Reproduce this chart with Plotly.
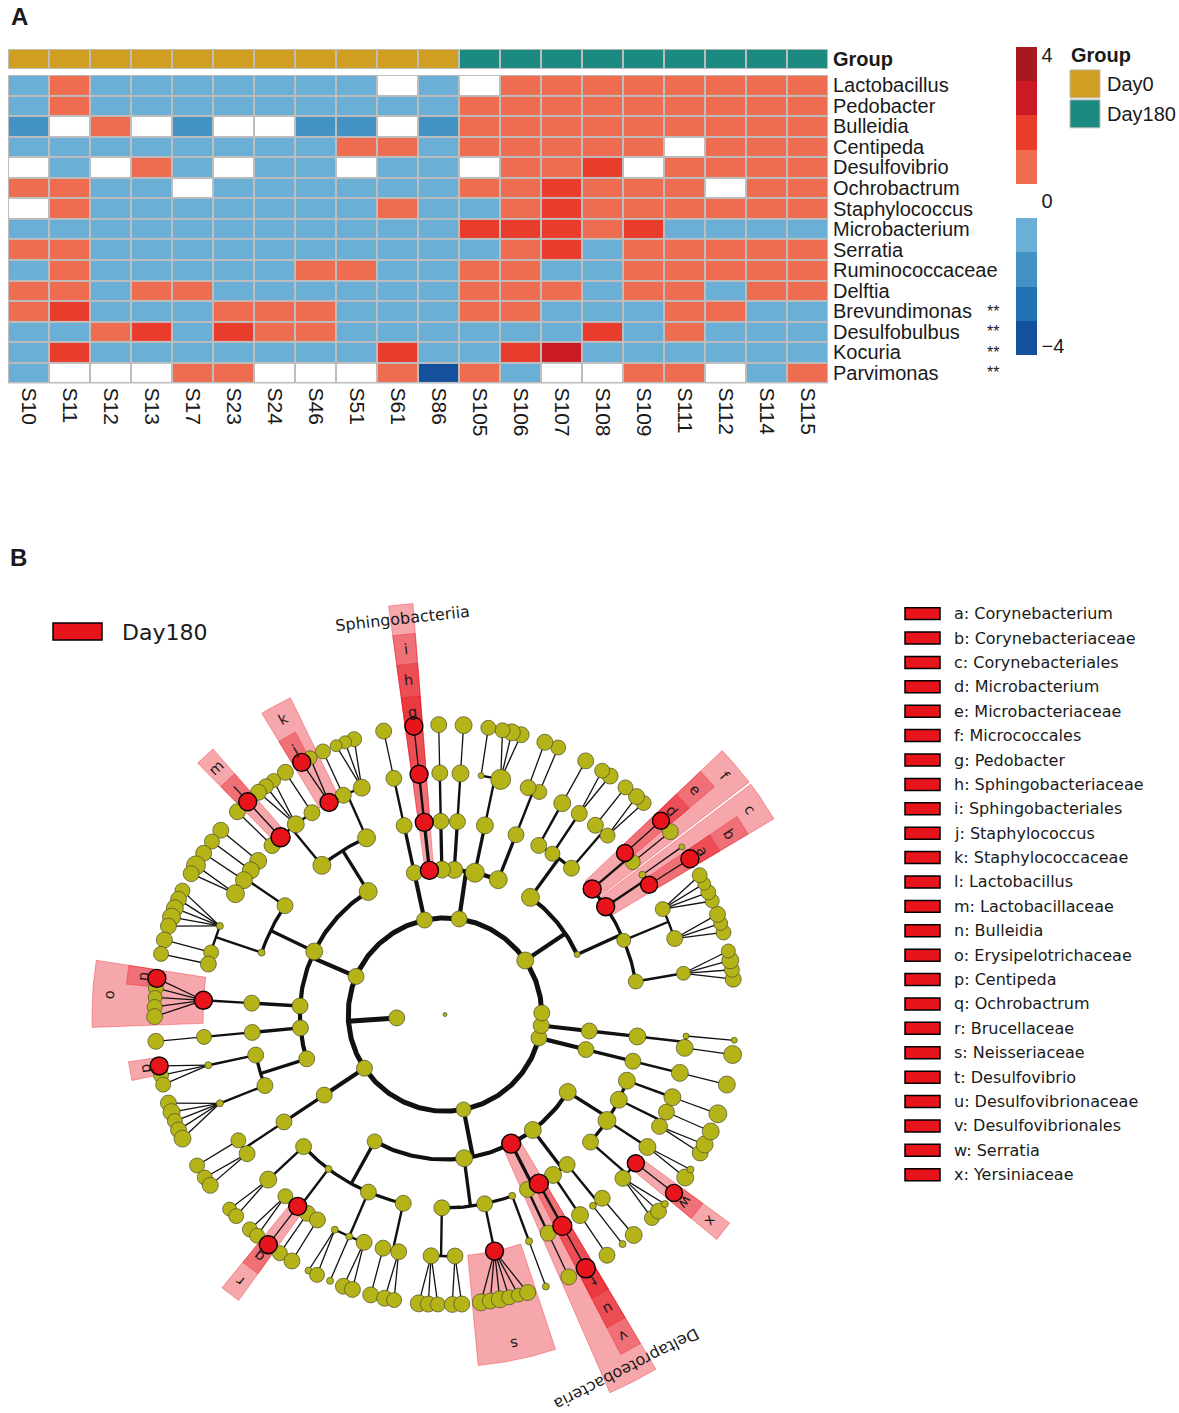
import math
import plotly.graph_objects as go

W, H = 1179, 1413

# ---------------- panel A: heatmap data ----------------
SAMPLES = ["S10", "S11", "S12", "S13", "S17", "S23", "S24", "S46", "S51", "S61", "S86",
           "S105", "S106", "S107", "S108", "S109", "S111", "S112", "S114", "S115"]
SAMPLE_GROUP = ["Day0", "Day0", "Day0", "Day0", "Day0", "Day0", "Day0", "Day0", "Day0", "Day0", "Day0",
                "Day180", "Day180", "Day180", "Day180", "Day180", "Day180", "Day180", "Day180", "Day180"]
GROUP_NAMES = ["Day0", "Day180"]
GROUP_COLORS = ["#D09E20", "#1B8A80"]

TAXA = ["Lactobacillus", "Pedobacter", "Bulleidia", "Centipeda", "Desulfovibrio", "Ochrobactrum",
        "Staphylococcus", "Microbacterium", "Serratia", "Ruminococcaceae", "Delftia",
        "Brevundimonas", "Desulfobulbus", "Kocuria", "Parvimonas"]
SIGNIF = ["", "", "", "", "", "", "", "", "", "", "", "**", "**", "**", "**"]

SCORES = [
    [-1, 1, -1, -1, -1, -1, -1, -1, -1, 0, -1, 0, 1, 1, 1, 1, 1, 1, 1, 1],
    [-1, 1, -1, -1, -1, -1, -1, -1, -1, -1, -1, 1, 1, 1, 1, 1, 1, 1, 1, 1],
    [-2, 0, 1, 0, -2, 0, 0, -2, -2, 0, -2, 1, 1, 1, 1, 1, 1, 1, 1, 1],
    [-1, -1, -1, -1, -1, -1, -1, -1, 1, 1, -1, 1, 1, 1, 1, 1, 0, 1, 1, 1],
    [0, -1, 0, 1, -1, 0, -1, -1, 0, -1, -1, 0, 1, 1, 2, 0, 1, 1, 1, 1],
    [1, 1, -1, -1, 0, -1, -1, -1, -1, -1, -1, 1, 1, 2, 1, 1, 1, 0, 1, 1],
    [0, 1, -1, -1, -1, -1, -1, -1, -1, 1, -1, -1, 1, 2, 1, 1, 1, 1, 1, 1],
    [-1, -1, -1, -1, -1, -1, -1, -1, -1, -1, -1, 2, 2, 2, 1, 2, -1, -1, -1, -1],
    [1, 1, -1, -1, -1, -1, -1, -1, -1, -1, -1, -1, 1, 2, -1, 1, 1, 1, 1, 1],
    [-1, 1, -1, -1, -1, -1, -1, 1, 1, -1, -1, 1, 1, -1, -1, 1, 1, 1, 1, 1],
    [1, 1, -1, 1, 1, -1, -1, -1, -1, -1, -1, 1, 1, 1, -1, 1, 1, -1, 1, 1],
    [1, 2, -1, -1, -1, 1, 1, 1, -1, -1, -1, 1, 1, -1, -1, -1, 1, 1, -1, -1],
    [-1, -1, 1, 2, -1, 2, 1, 1, -1, -1, -1, -1, -1, -1, 2, -1, 1, -1, -1, -1],
    [-1, 2, -1, -1, -1, -1, -1, -1, -1, 2, -1, -1, 2, 3, -1, -1, -1, -1, -1, -1],
    [-1, 0, 0, 0, 1, 1, 0, 0, 0, 1, -4, 1, -1, 0, 0, 1, 1, 0, -1, 1],
]
# colours for the score levels -4 .. 4
LEVEL_COLORS = ["#14509B", "#2171B5", "#4292C6", "#6BAED6", "#FFFFFF",
                "#EE6C50", "#EA3C2D", "#CC1A24", "#A8181F"]

# ---------------- panel B: cladogram data ----------------
# node = leaf size | (size, [children]) | ("Name", size[, [children]])
ACTINOBACTERIA = (17, [
    (6, [
        (15, [(14, [16, 15, 17, 14])]),
        (14, [(16, [15, 14, 16]), (15, [14, 15, 13, 15])]),
        ("Corynebacteriales", 18, [
            ("Corynebacteriaceae", 17, [("Corynebacterium", 18)]),
            (7, [6]),
        ]),
        ("Micrococcales", 18, [
            (15, [16]),
            ("Microbacteriaceae", 17, [("Microbacterium", 17)]),
        ]),
    ]),
    (18, [
        (16, [(15, [15, 16]), (16, [15])]),
        (15, [(16, [16, 15])]),
        (16, [(17, [16])]),
    ]),
])

BACTEROIDETES = (16, [
    (18, [(16, [(15, [15]), (16, [16])])]),
    (19, [(17, [(20, [16, 17, 15]), (6, [15])])]),
    (17, [(16, [(17, [17])])]),
    (17, [(16, [(16, [16])])]),
    ("Sphingobacteriia", 18, [("Sphingobacteriales", 18, [("Sphingobacteriaceae", 18, [("Pedobacter", 18)])])]),
])

MINOR_PHYLUM_A = (16, [(16, [(16, [(16, [16])])])])

FIRMICUTES = (16, [
    (18, [
        (18, [(17, [15, 13, 12]), (16, [15]), ("Staphylococcaceae", 18, [14, ("Staphylococcus", 18)])]),
        (18, [(16, [16]), (17, [14, 15, 16]), ("Lactobacillaceae", 19, [("Lactobacillus", 18)]), (16, [16])]),
    ]),
    (17, [
        (16, [(17, [16]), (17, [15]), (17, [16]), (18, [19, 16])]),
        (7, [(7, [15, 16, 17, 18, 16]), (15, [16]), (16, [15])]),
    ]),
    (16, [(16, [("Erysipelotrichaceae", 18, [("Bulleidia", 18), 15, 14, 15, 16])])]),
    (16, [(16, [(15, [16])])]),
    (16, [
        (16, [(7, [("Centipeda", 18), 15, 15])]),
        (16, [(7, [16, 17, 15, 16, 17])]),
    ]),
])

FUSOBACTERIA = (16, [(16, [(16, [(15, [15]), (16, [15, 16])])])])

PROTEOBACTERIA = (15, [
    (15, [
        (16, [(17, [14, 15])]),
        (7, [(15, [15, 15]), ("Brucellaceae", 18, [("Ochrobactrum", 18)]), (16, [15]), (16, [16])]),
        (16, [(7, [7, 15]), (7, [7]), (16, [16, 16])]),
        (16, [(16, [16]), (16, [16, 15])]),
    ]),
    (17, [
        (16, [(16, [17, 16, 15]), (16, [16, 16])]),
        (16, [("Neisseriaceae", 18, [17, 16, 17, 15, 14, 16])]),
        (7, [(7, [7])]),
    ]),
    ("Deltaproteobacteria", 19, [
        (16, [(16, [16])]),
        ("Desulfovibrionales", 19, [("Desulfovibrionaceae", 19, [("Desulfovibrio", 19)])]),
    ]),
    (17, [(17, [(17, [16])]), (16, [(7, [7]), (16, [17])])]),
    (17, [
        (16, [(16, [15, 16, 7]), ("Yersiniaceae", 17, [("Serratia", 17)])]),
        (18, [(17, [17, 7])]),
        (17, [(16, [16, 17]), (16, [17])]),
        (17, [(17, [18])]),
    ]),
])

MINOR_PHYLUM_B = (16, [(16, [(16, [(17, [17])])])])
MINOR_PHYLUM_C = (16, [(16, [(17, [(17, [18]), (6, [6])])])])
MINOR_PHYLUM_D = 16

PHYLA = [ACTINOBACTERIA, BACTEROIDETES, MINOR_PHYLUM_A, FIRMICUTES, FUSOBACTERIA,
         PROTEOBACTERIA, MINOR_PHYLUM_B, MINOR_PHYLUM_C, MINOR_PHYLUM_D]

BIOMARKER_LETTERS = list("abcdefghijklmnopqrstuvwx")
BIOMARKER_TAXA = ["Corynebacterium", "Corynebacteriaceae", "Corynebacteriales", "Microbacterium",
                  "Microbacteriaceae", "Micrococcales", "Pedobacter", "Sphingobacteriaceae",
                  "Sphingobacteriales", "Staphylococcus", "Staphylococcaceae", "Lactobacillus",
                  "Lactobacillaceae", "Bulleidia", "Erysipelotrichaceae", "Centipeda", "Ochrobactrum",
                  "Brucellaceae", "Neisseriaceae", "Desulfovibrio", "Desulfovibrionaceae",
                  "Desulfovibrionales", "Serratia", "Yersiniaceae"]
BIOMARKER_CLASSES = ["Sphingobacteriia", "Deltaproteobacteria"]

RED = "#E8141C"
NODE_YELLOW = "#B4B418"
TXT = "#1a1a1a"
SANS = "Liberation Sans, Arial, sans-serif"
DEJAVU = "DejaVu Sans, sans-serif"


def px(x):
    return x / W


def py(y):
    return 1 - y / H


def note(x, y, text, size, family=SANS, xanchor="left", **kw):
    return dict(xref="paper", yref="paper", x=px(x), y=py(y), xanchor=xanchor, yanchor="middle",
                text=text, showarrow=False, font=dict(family=family, size=size, color=TXT), **kw)


fig = go.Figure()

# ---------------- heatmap ----------------
scale = []
for i, c in enumerate(LEVEL_COLORS):
    scale += [[i / 9, c], [(i + 1) / 9, c]]

fig.add_trace(go.Heatmap(
    z=SCORES, x=SAMPLES, y=TAXA, zmin=-4.5, zmax=4.5, colorscale=scale,
    xgap=2, ygap=2, xaxis="x", yaxis="y",
    colorbar=dict(x=px(1016), xanchor="left", y=py(200), yanchor="middle",
                  len=308, lenmode="pixels", thickness=21, thicknessmode="pixels",
                  xpad=0, ypad=0, outlinewidth=0, ticks="",
                  tickvals=[-4.25, 0, 4.25], ticktext=["\u22124", "0", "4"],
                  tickfont=dict(family=SANS, size=20, color=TXT)),
))

grp_idx = [GROUP_NAMES.index(g) for g in SAMPLE_GROUP]
fig.add_trace(go.Heatmap(
    z=[grp_idx], x=SAMPLES, y=["Group"], zmin=0, zmax=1,
    colorscale=[[0, GROUP_COLORS[0]], [0.5, GROUP_COLORS[0]], [0.5, GROUP_COLORS[1]], [1, GROUP_COLORS[1]]],
    showscale=False, xgap=2, ygap=2, xaxis="x", yaxis="y2",
))

shapes = [
    dict(type="rect", xref="x domain", yref="y domain", x0=0, x1=1, y0=0, y1=1,
         fillcolor="#BDBDBD", line_width=0, layer="below"),
    dict(type="rect", xref="x domain", yref="y2 domain", x0=0, x1=1, y0=0, y1=1,
         fillcolor="#BDBDBD", line_width=0, layer="below"),
]
annotations = []

for name, s in zip(TAXA, SIGNIF):
    if s:
        annotations.append(dict(xref="paper", yref="y", x=px(993), y=name, xanchor="center",
                                yanchor="middle", text=s, showarrow=False,
                                font=dict(family=SANS, size=16, color=TXT)))

# group legend
annotations.append(note(1069, 54, "<b>Group</b>", 20))
for i, (g, c) in enumerate(zip(GROUP_NAMES, GROUP_COLORS)):
    top = 69 + i * 30
    shapes.append(dict(type="rect", xref="paper", yref="paper", x0=px(1070), x1=px(1100),
                       y0=py(top + 28), y1=py(top), fillcolor=c, line=dict(color="#BDBDBD", width=1)))
    annotations.append(note(1105, top + 14, g, 20))

# panel letters
annotations.append(note(9, 16, "<b>A</b>", 24))
annotations.append(note(8, 557, "<b>B</b>", 24))

# ---------------- cladogram layout ----------------
R_STEP = 48.4
GAP_AFTER = {0: 0.0, 1: 2.2, 2: 1.6, 3: 1.0, 4: 0.5, 5: 0.0}
BAND_OUTER = {3: 413, 4: 383, 5: 353, 6: 320}
LABEL_R = {3: 399, 4: 368, 5: 337, 6: 305}
LINE_W = {1: 5.0, 2: 4.2, 3: 3.3, 4: 2.4, 5: 1.3}
START_DEG = 7.0


def build(item, level):
    if isinstance(item, (int, float)):
        return {"name": "", "size": item, "level": level, "kids": []}
    if isinstance(item[0], str):
        name, size = item[0], item[1]
        kids = item[2] if len(item) > 2 else []
    else:
        name, size, kids = "", item[0], item[1]
    return {"name": name, "size": size, "level": level, "kids": [build(k, level + 1) for k in kids]}


root = {"name": "", "size": 4, "level": 0, "kids": [build(("Bacteria", 16, PHYLA), 1)]}

counter = [0.0]


def place(node):
    if not node["kids"]:
        node["pos"] = counter[0]
        node["lo"] = node["hi"] = counter[0]
        counter[0] += 1
        return
    for i, k in enumerate(node["kids"]):
        if i:
            counter[0] += GAP_AFTER[node["level"]]
        place(k)
    node["lo"] = node["kids"][0]["lo"]
    node["hi"] = node["kids"][-1]["hi"]
    node["pos"] = (node["lo"] + node["hi"]) / 2


place(root)
unit = 360.0 / (counter[0] + GAP_AFTER[1])

nodes = []


def collect(node):
    node["deg"] = START_DEG + node["pos"] * unit
    nodes.append(node)
    for k in node["kids"]:
        collect(k)


collect(root)


def polar(r, deg):
    t = math.radians(deg)
    return r * math.cos(t), r * math.sin(t)


def arc(r, d0, d1):
    n = max(2, int(abs(d1 - d0) / 0.8) + 2)
    return [polar(r, d0 + (d1 - d0) * i / (n - 1)) for i in range(n)]


marker_letter = dict(zip(BIOMARKER_TAXA, BIOMARKER_LETTERS))


def is_marker(n):
    return n["name"] in marker_letter or n["name"] in BIOMARKER_CLASSES


# shaded wedges for biomarker clades
pad = 0.9 * unit
for n in sorted([n for n in nodes if is_marker(n)], key=lambda n: n["level"]):
    lv = n["level"]
    d0 = START_DEG + n["lo"] * unit - pad
    d1 = START_DEG + n["hi"] * unit + pad
    pts = arc(BAND_OUTER[lv], d0, d1) + arc(lv * R_STEP, d1, d0)
    pts.append(pts[0])
    fig.add_trace(go.Scatter(x=[p[0] for p in pts], y=[p[1] for p in pts], mode="lines",
                             fill="toself", fillcolor="rgba(232,24,34,0.38)",
                             line=dict(color="rgba(232,24,34,0.45)", width=0.8),
                             hoverinfo="skip", xaxis="x3", yaxis="y3"))

# branches
segs = {}


def add(w, pts):
    xs, ys = segs.setdefault(w, ([], []))
    for x, y in pts:
        xs.append(x)
        ys.append(y)
    xs.append(None)
    ys.append(None)


for n in nodes:
    lv = n["level"]
    if lv == 0 or not n["kids"]:
        continue
    rp, rc = lv * R_STEP, (lv + 1) * R_STEP
    w = LINE_W[lv]
    if lv <= 4:
        add(w, [polar(rp, n["deg"]), polar(rc, n["deg"])])
        if lv == 1:
            add(w, arc(rc, 0, 360))
        else:
            d0 = min(k["deg"] for k in n["kids"])
            d1 = max(k["deg"] for k in n["kids"])
            if d1 > d0:
                add(w, arc(rc, d0, d1))
    else:
        for k in n["kids"]:
            add(w, [polar(rp, n["deg"]), polar(rc, k["deg"])])

for w, (xs, ys) in sorted(segs.items()):
    fig.add_trace(go.Scatter(x=xs, y=ys, mode="lines", line=dict(color="#111111", width=w),
                             hoverinfo="skip", xaxis="x3", yaxis="y3"))

# nodes
for red in (False, True):
    sel = [n for n in nodes if is_marker(n) == red]
    xy = [polar(n["level"] * R_STEP, n["deg"]) for n in sel]
    fig.add_trace(go.Scatter(
        x=[p[0] for p in xy], y=[p[1] for p in xy], mode="markers",
        marker=dict(size=[n["size"] for n in sel], color=RED if red else NODE_YELLOW, opacity=1,
                    line=dict(color="#000000" if red else "#4a4a2a", width=1.4 if red else 0.7)),
        text=[n["name"] for n in sel], hoverinfo="text", xaxis="x3", yaxis="y3"))

# clade labels
for n in nodes:
    if not is_marker(n):
        continue
    lv = n["level"]
    x, y = polar(LABEL_R[lv], n["deg"])
    ang = 90 - n["deg"]
    while ang > 180:
        ang -= 360
    while ang <= -180:
        ang += 360
    if n["name"] in BIOMARKER_CLASSES:
        txt, size = n["name"], 16
    else:
        txt, size = marker_letter[n["name"]], 14.5
    annotations.append(dict(xref="x3", yref="y3", x=x, y=y, xanchor="center", yanchor="middle",
                            text=txt, textangle=ang, showarrow=False,
                            font=dict(family=DEJAVU, size=size, color=TXT)))

# Day180 legend (top-left of B)
shapes.append(dict(type="rect", xref="paper", yref="paper", x0=px(53), x1=px(102), y0=py(640), y1=py(623),
                   fillcolor=RED, line=dict(color="#000", width=1.5)))
annotations.append(note(120, 632, "Day180", 22, family=DEJAVU))

# biomarker key (right of B)
for i, (let, tax) in enumerate(zip(BIOMARKER_LETTERS, BIOMARKER_TAXA)):
    yc = 613.5 + i * 24.43
    shapes.append(dict(type="rect", xref="paper", yref="paper", x0=px(905), x1=px(940),
                       y0=py(yc + 6), y1=py(yc - 6), fillcolor=RED, line=dict(color="#000", width=1.5)))
    annotations.append(note(952, yc, f"{let}: {tax}", 16, family=DEJAVU))

fig.update_layout(
    width=W, height=H, margin=dict(l=0, r=0, t=0, b=0),
    paper_bgcolor="white", plot_bgcolor="rgba(0,0,0,0)", showlegend=False,
    xaxis=dict(domain=[px(8), px(828)], anchor="y", tickangle=90, ticks="", showgrid=False,
               zeroline=False, showline=False, ticklabelstandoff=3,
               tickfont=dict(family=SANS, size=21, color=TXT)),
    yaxis=dict(domain=[py(383), py(74)], anchor="x", side="right", autorange="reversed", ticks="",
               showgrid=False, zeroline=False, ticklabelstandoff=4,
               tickmode="array", tickvals=TAXA, ticktext=TAXA,
               tickfont=dict(family=SANS, size=20, color=TXT)),
    yaxis2=dict(domain=[py(68), py(48)], anchor="x", side="right", ticks="", showgrid=False,
                zeroline=False, tickvals=["Group"], ticktext=["<b>Group</b>"], ticklabelstandoff=4,
                tickfont=dict(family=SANS, size=20, color=TXT)),
    xaxis3=dict(domain=[0, 1], range=[-445, W - 445], visible=False, anchor="y3", fixedrange=True),
    yaxis3=dict(domain=[0, 1], range=[1015 - H, 1015], visible=False, anchor="x3", fixedrange=True),
    shapes=shapes, annotations=annotations,
)

fig.write_html("out.html", config={"displayModeBar": False},
               post_script="document.body.style.margin='0px';")
